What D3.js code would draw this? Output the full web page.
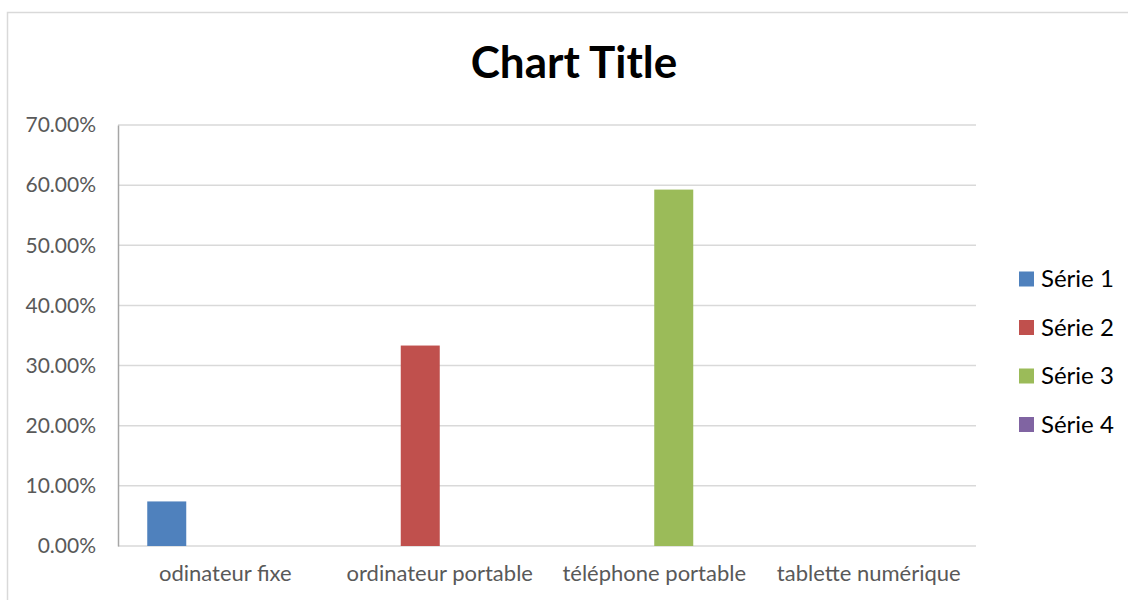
<!DOCTYPE html>
<html><head><meta charset="utf-8">
<script src="https://cdn.jsdelivr.net/npm/d3@7"></script>
<style>body{margin:0;background:#fff;} svg{display:block;}</style>
</head><body>
<svg id="c" width="1128" height="600"></svg>
<script>
const categories = ["odinateur fixe", "ordinateur portable", "téléphone portable", "tablette numérique"];
const seriesNames = ["Série 1", "Série 2", "Série 3", "Série 4"];
const serie1 = [0.0741, null, null, null];
const serie2 = [null, 0.3333, null, null];
const serie3 = [null, null, 0.5926, null];
const serie4 = [null, null, null, 0];
const seriesValues = [serie1, serie2, serie3, serie4];
const colors = ["#4f81bd", "#c0504d", "#9bbb59", "#8064a2"];
const yTicks = [0, 0.1, 0.2, 0.3, 0.4, 0.5, 0.6, 0.7];
const title = "Chart Title";

const svg = d3.select("#c");
const font = "Lato, 'Open Sans', sans-serif";
const L = 118, R = 976, T = 125, B = 546;

// outer frame
svg.append("rect").attr("x", 7.5).attr("y", 12.5).attr("width", 1200).attr("height", 700)
  .attr("fill", "none").attr("stroke", "#d9d9d9").attr("stroke-width", 1.5);

const x0 = d3.scaleBand().domain(categories).range([L, R]).padding(0);
const x1 = d3.scaleBand().domain(seriesNames).range([0, x0.bandwidth()]).paddingInner(0).paddingOuter(0.75);
const y = d3.scaleLinear().domain([0, 0.7]).range([B, T]);

// gridlines
svg.append("g").selectAll("line").data(yTicks).join("line")
  .attr("x1", L).attr("x2", R).attr("y1", d => y(d)).attr("y2", d => y(d))
  .attr("stroke", "#d9d9d9").attr("stroke-width", 1.5);

// y axis
const yAxis = svg.append("g").attr("transform", `translate(${L},0)`)
  .call(d3.axisLeft(y).tickValues(yTicks).tickFormat(d3.format(".2%")).tickSize(0).tickPadding(22));
yAxis.select(".domain").attr("stroke", "#a6a6a6").attr("stroke-width", 1.5);
yAxis.selectAll("text").attr("font-family", font).attr("font-size", 21).attr("fill", "#595959");

// x axis labels
const xAxis = svg.append("g").attr("transform", `translate(0,${B})`)
  .call(d3.axisBottom(x0).tickSize(0).tickPadding(19));
xAxis.select(".domain").remove();
xAxis.selectAll("text").attr("font-family", font).attr("font-size", 22).attr("fill", "#595959");

// bars
const g = svg.append("g");
categories.forEach((cat, ci) => {
  seriesNames.forEach((s, si) => {
    const v = seriesValues[si][ci];
    if (v === null) return;
    g.append("rect")
      .attr("x", x0(cat) + x1(s)).attr("width", x1.bandwidth())
      .attr("y", y(v)).attr("height", y(0) - y(v))
      .attr("fill", colors[si]);
  });
});

// title
svg.append("text").attr("x", 574).attr("y", 78).attr("text-anchor", "middle")
  .attr("font-family", font).attr("font-weight", "bold").attr("font-size", 44).attr("fill", "#000")
  .text(title);

// legend
const lg = svg.append("g");
seriesNames.forEach((s, i) => {
  const cy = 279 + i * 48.5;
  lg.append("rect").attr("x", 1019).attr("y", cy - 7.5).attr("width", 15).attr("height", 15).attr("fill", colors[i]);
  lg.append("text").attr("x", 1041).attr("y", cy).attr("dy", "0.35em")
    .attr("font-family", font).attr("font-size", 24).attr("fill", "#000").text(s);
});
</script>
</body></html>
